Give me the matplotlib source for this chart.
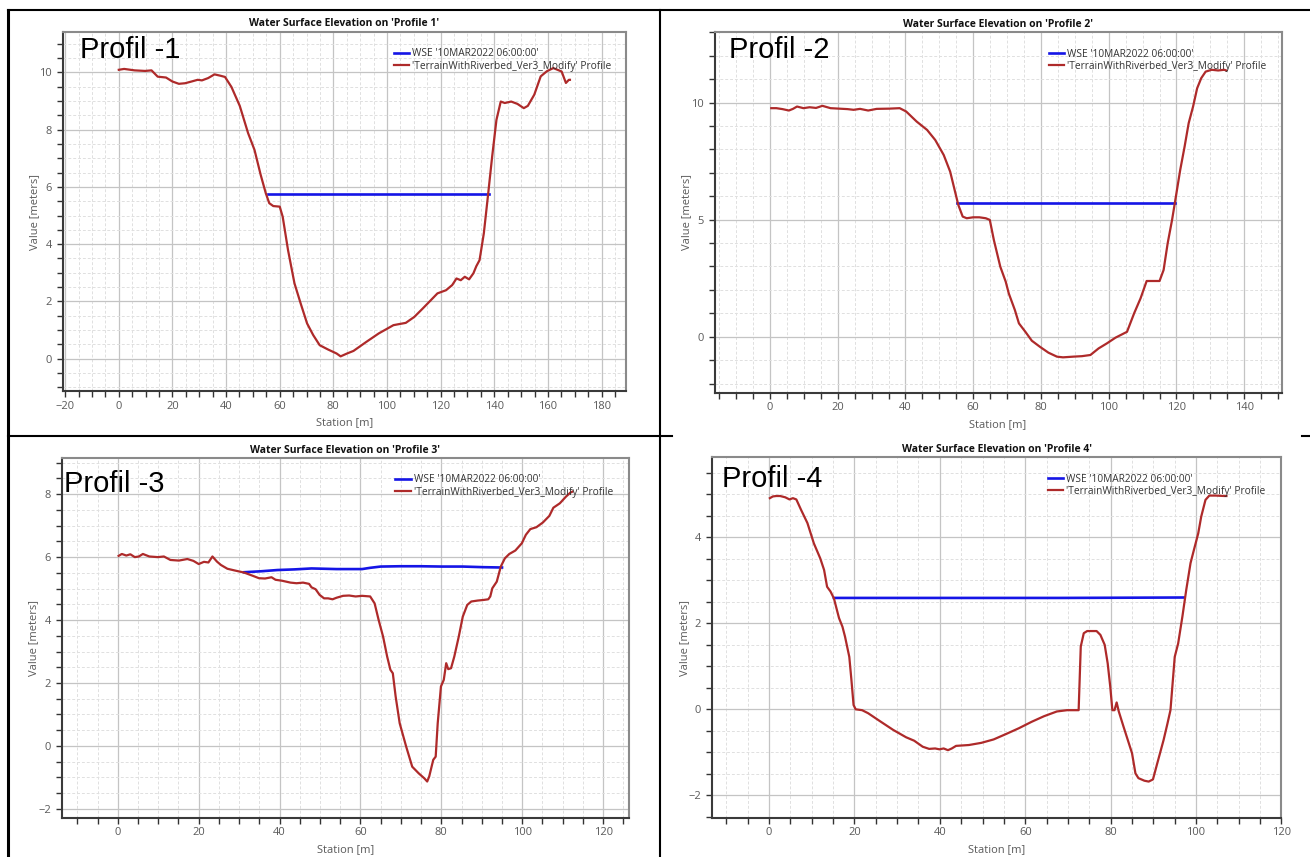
import matplotlib
matplotlib.use("Agg")
import matplotlib.pyplot as plt
from matplotlib.ticker import MultipleLocator
from matplotlib.lines import Line2D

# ---------------- data ----------------
titles = ["Water Surface Elevation on 'Profile 1'", "Water Surface Elevation on 'Profile 2'",
          "Water Surface Elevation on 'Profile 3'", "Water Surface Elevation on 'Profile 4'"]
labels = ["Profil -1", "Profil -2", "Profil -3", "Profil -4"]
legend_wse = "WSE '10MAR2022 06:00:00'"
legend_ter = "'TerrainWithRiverbed_Ver3_Modify' Profile"

# Profile 1
st1 = [0, 2, 5.9, 9.8, 12.2, 14.5, 17.6, 20, 22.4, 24.7, 27.1, 29.4, 31, 33.3, 35.7, 38, 39.6,
       42, 45.1, 48.2, 50.6, 52.9, 54.8, 56.1, 57.6, 60, 61.1, 63.1, 65.5, 67.8, 70.2, 72.5, 74.9,
       78, 81.2, 82.7, 85.1, 87.5, 92.2, 96.9, 102.4, 107, 110.2, 113.3, 115.7, 118.8, 122, 124.3,
       125.9, 127.5, 129, 130.6, 132.2, 133.3, 134.5, 136.1, 137.6, 139.2, 140.8, 142.4, 143.9,
       146.3, 148.6, 151, 152.5, 154.9, 157.3, 159.6, 162, 165.1, 166.7, 167.8, 168.2]
z1 = [10.09, 10.12, 10.07, 10.05, 10.07, 9.85, 9.82, 9.68, 9.6, 9.62, 9.68, 9.74, 9.72, 9.8, 9.93,
      9.88, 9.84, 9.49, 8.83, 7.88, 7.29, 6.42, 5.78, 5.43, 5.33, 5.31, 4.96, 3.79, 2.63, 1.93,
      1.23, 0.82, 0.47, 0.32, 0.18, 0.08, 0.18, 0.27, 0.58, 0.88, 1.17, 1.25, 1.46, 1.75, 1.98,
      2.28, 2.39, 2.57, 2.80, 2.74, 2.86, 2.77, 2.98, 3.23, 3.44, 4.38, 5.66, 7.06, 8.34, 8.98,
      8.93, 8.98, 8.90, 8.75, 8.83, 9.22, 9.86, 10.04, 10.15, 10.03, 9.63, 9.74, 9.74]
wse1_st = [55.5, 138.0]
wse1_z = [5.75, 5.75]

# Profile 2
st2 = [0.4, 1.9, 3.7, 5.6, 6.8, 8, 9.9, 11.7, 13.6, 15.5, 17.9, 20.4, 22.9, 24.7, 26.6, 29, 31.5,
       35.2, 38.3, 40.2, 43.3, 46.4, 48.8, 51.3, 53.2, 54.4, 55.6, 56.9, 58.1, 60, 61.8, 63.7,
       64.9, 66.1, 68, 69.6, 70.5, 72.3, 73.5, 75.4, 77.3, 79.7, 82.2, 84.7, 86.5, 89.6, 92.1,
       94.6, 97, 99.5, 102, 105.4, 107.5, 109.4, 111.2, 113.1, 115, 116.2, 117.4, 118.7, 119.9,
       121.1, 122.4, 123.6, 124.9, 126.1, 127.3, 128.6, 130.4, 132.3, 134.1, 134.7]
z2 = [9.76, 9.76, 9.72, 9.66, 9.73, 9.83, 9.76, 9.80, 9.77, 9.86, 9.76, 9.74, 9.72, 9.69, 9.73,
      9.66, 9.73, 9.74, 9.76, 9.62, 9.19, 8.83, 8.40, 7.76, 7.05, 6.34, 5.63, 5.13, 5.06, 5.10,
      5.10, 5.06, 4.99, 4.13, 2.99, 2.35, 1.85, 1.14, 0.57, 0.21, -0.17, -0.43, -0.68, -0.85,
      -0.88, -0.85, -0.83, -0.78, -0.50, -0.28, -0.04, 0.21, 1.0, 1.64, 2.38, 2.38, 2.38, 2.85,
      3.99, 4.99, 6.05, 7.12, 8.12, 9.12, 9.83, 10.61, 11.04, 11.32, 11.40, 11.37, 11.40, 11.37]
wse2_st = [55.3, 119.7]
wse2_z = [5.71, 5.71]

# Profile 3
st3 = [0.2, 1, 2.1, 3.1, 4.2, 5.2, 6.2, 7.8, 9.9, 11.4, 13, 15.1, 17.2, 18.7, 20, 21.3, 22.4,
       23.4, 24.5, 25.5, 27.1, 29.1, 31.2, 33.3, 34.9, 36.4, 38, 39, 40.6, 42.7, 44.2, 45.8, 47.3,
       47.9, 48.9, 49.9, 51, 52, 53.1, 54.1, 55.7, 57.2, 58.8, 60.4, 62.4, 63.5, 64.5, 65.6, 66.6,
       67.4, 68, 68.7, 69.7, 71.3, 72.8, 74.4, 75.8, 76.5, 77, 78, 78.6, 79.1, 79.9, 80.6, 81.2,
       81.7, 82.4, 83.2, 84.3, 85.3, 86.4, 87.4, 89, 90.5, 91.6, 92.1, 92.6, 93.7, 94.7, 95.7,
       96.8, 98.3, 99.9, 100.9, 102, 103.5, 105.1, 106.7, 107.7, 109.3, 110.8, 111.9, 112.4]
z3 = [6.04, 6.10, 6.05, 6.09, 6.0, 6.02, 6.10, 6.02, 6.0, 6.02, 5.91, 5.89, 5.94, 5.88, 5.78,
      5.85, 5.83, 6.02, 5.86, 5.75, 5.63, 5.57, 5.51, 5.41, 5.33, 5.32, 5.36, 5.28, 5.25, 5.19,
      5.17, 5.19, 5.15, 5.04, 4.98, 4.80, 4.69, 4.69, 4.66, 4.71, 4.77, 4.78, 4.75, 4.77, 4.75,
      4.53, 4.0, 3.47, 2.84, 2.42, 2.31, 1.57, 0.72, -0.02, -0.66, -0.87, -1.03, -1.13, -0.97,
      -0.44, -0.34, 0.72, 1.89, 2.10, 2.63, 2.44, 2.47, 2.84, 3.47, 4.11, 4.48, 4.59, 4.62, 4.64,
      4.66, 4.75, 5.01, 5.22, 5.70, 5.96, 6.10, 6.21, 6.44, 6.71, 6.89, 6.95, 7.10, 7.31, 7.57,
      7.71, 7.92, 8.05, 8.08]
wse3_st = [31.2, 35.4, 39.5, 43.7, 47.9, 54.1, 60.4, 62.4, 65, 69.7, 74.9, 80.1, 85.3, 90.5, 95]
wse3_z = [5.52, 5.55, 5.59, 5.61, 5.64, 5.62, 5.62, 5.66, 5.70, 5.71, 5.71, 5.70, 5.70, 5.68, 5.67]

# Profile 4
st4 = [0.2, 0.9, 1.7, 2.6, 3.8, 4.8, 5.6, 6.4, 7.5, 9, 10.5, 12, 12.9, 13.6, 14.4, 15.2, 15.9,
       16.4, 17.2, 17.8, 18.8, 19.3, 19.8, 20.3, 21.8, 23.2, 26.2, 29.1, 32.1, 34, 36, 37.5, 38.9,
       39.9, 40.9, 41.9, 42.8, 43.8, 46.8, 49.7, 52.6, 55.6, 58.5, 61.5, 64.4, 67.4, 69.8, 71.3,
       72.5, 73, 73.7, 74.5, 75.7, 76.7, 77.6, 78.6, 79.3, 79.9, 80.4, 80.9, 81.4, 81.9, 83, 84,
       85, 85.8, 86.5, 87.9, 88.9, 89.9, 90.9, 92.4, 93.3, 94, 94.5, 95, 95.8, 96.8, 97.7, 98.7,
       99.5, 100.5, 101.2, 102.2, 103.1, 104.6, 106.6, 107.1]
z4 = [4.91, 4.95, 4.96, 4.96, 4.93, 4.88, 4.91, 4.88, 4.64, 4.33, 3.86, 3.51, 3.24, 2.85, 2.74,
      2.58, 2.31, 2.12, 1.92, 1.69, 1.22, 0.68, 0.10, 0.0, -0.02, -0.09, -0.29, -0.48, -0.65,
      -0.73, -0.87, -0.92, -0.91, -0.93, -0.91, -0.95, -0.91, -0.85, -0.83, -0.78, -0.70, -0.57,
      -0.44, -0.29, -0.16, -0.05, -0.02, -0.02, -0.02, 1.46, 1.77, 1.82, 1.82, 1.82, 1.73, 1.50,
      1.07, 0.53, -0.02, -0.02, 0.16, -0.05, -0.40, -0.71, -1.02, -1.49, -1.60, -1.66, -1.68,
      -1.63, -1.26, -0.71, -0.33, -0.02, 0.60, 1.22, 1.53, 2.16, 2.78, 3.40, 3.71, 4.09, 4.48,
      4.87, 4.97, 4.97, 4.96, 4.96]
wse4_st = [15.2, 68.0, 97.3]
wse4_z = [2.59, 2.59, 2.60]

stations = [st1, st2, st3, st4]
terrain = [z1, z2, z3, z4]
wse_st = [wse1_st, wse2_st, wse3_st, wse4_st]
wse_z = [wse1_z, wse2_z, wse3_z, wse4_z]

# ---------------- layout / style ----------------
W, H = 1310, 857
fig = plt.figure(figsize=(W / 100, H / 100), dpi=100)
fig.patch.set_facecolor("white")

def frac(l, t, r, b):
    return [l / W, (H - b) / H, (r - l) / W, (b - t) / H]

boxes = [frac(63, 32, 626, 391), frac(714.7, 32.3, 1281.5, 392.7),
         frac(62, 458.3, 629, 817.7), frac(712.2, 457.3, 1281.5, 817.7)]
xlims = [(-20.8, 189.1), (-16.3, 151.0), (-13.8, 126.4), (-13.3, 120.0)]
ylims = [(-1.13, 11.41), (-2.39, 13.0), (-2.28, 9.14), (-2.52, 5.86)]
ymaj = [2, 5, 2, 2]
ymin = [0.5, 1, 0.5, 0.5]
txt_pos = [(0.030, 0.928), (0.025, 0.929), (0.0035, 0.907), (0.017, 0.917)]
leg_x = [0.588, 0.589, 0.588, 0.589]

tick_font = "Open Sans"
grey = "#5a5a5a"

for i in range(4):
    ax = fig.add_axes(boxes[i])
    ax.set_xlim(*xlims[i])
    ax.set_ylim(*ylims[i])
    ax.xaxis.set_major_locator(MultipleLocator(20))
    ax.xaxis.set_minor_locator(MultipleLocator(5))
    ax.yaxis.set_major_locator(MultipleLocator(ymaj[i]))
    ax.yaxis.set_minor_locator(MultipleLocator(ymin[i]))
    ax.grid(which="major", color="#c4c4c4", lw=0.9, ls="-")
    ax.grid(which="minor", color="#e0e0e0", lw=0.7, ls=(0, (3, 2)))
    ax.set_axisbelow(True)
    ax.tick_params(which="both", direction="out", length=4, width=1.0, color="#333333",
                   labelsize=8, labelcolor=grey, pad=3)
    ax.tick_params(which="minor", labelbottom=False, labelleft=False)
    ax.tick_params(axis="y", which="both", pad=4)
    for lab in ax.get_xticklabels() + ax.get_yticklabels():
        lab.set_fontfamily(tick_font)
    for s in ["left", "bottom"]:
        ax.spines[s].set_color("#3a3a3a")
        ax.spines[s].set_linewidth(1.5)
    for s in ["top", "right"]:
        ax.spines[s].set_color("#8a8a8a")
        ax.spines[s].set_linewidth(1.5)

    ax.plot(wse_st[i], wse_z[i], color="#1515e6", lw=1.9, label=legend_wse, zorder=3)
    ax.plot(stations[i], terrain[i], color="#ae2a2a", lw=1.6, label=legend_ter, zorder=4)

    ax.set_title(titles[i], fontsize=7.5, fontweight="bold", family="Open Sans",
                 color="#111111", pad=4)
    ax.set_xlabel("Station [m]", fontsize=8, color=grey, family=tick_font, labelpad=4)
    ax.set_ylabel("Value [meters]", fontsize=8, color=grey, family=tick_font, labelpad=-1)

    ax.text(txt_pos[i][0], txt_pos[i][1], labels[i], transform=ax.transAxes,
            fontsize=21, family="Liberation Sans", color="black", va="baseline", ha="left",
            zorder=5)

    leg = ax.legend(loc="upper left", bbox_to_anchor=(leg_x[i], 0.955), frameon=False,
                    handlelength=1.5, handletextpad=0.3, labelspacing=0.15,
                    borderpad=0, borderaxespad=0, prop={"family": tick_font, "size": 7.3})
    for t in leg.get_texts():
        t.set_color("#333333")

# table borders
def fline(x0, y0, x1, y1, lw):
    fig.add_artist(Line2D([x0 / W, x1 / W], [1 - y0 / H, 1 - y1 / H], color="black",
                          lw=lw, transform=fig.transFigure))

fline(8, 10, 1310, 10, 1.5)
fline(8, 10, 8, 857, 2.2)
fline(660, 10, 660, 857, 1.5)
fline(8, 436, 672, 436, 1.5)
fline(1302, 436, 1310, 436, 1.5)

fig.savefig("out.png", dpi=100, facecolor="white")
